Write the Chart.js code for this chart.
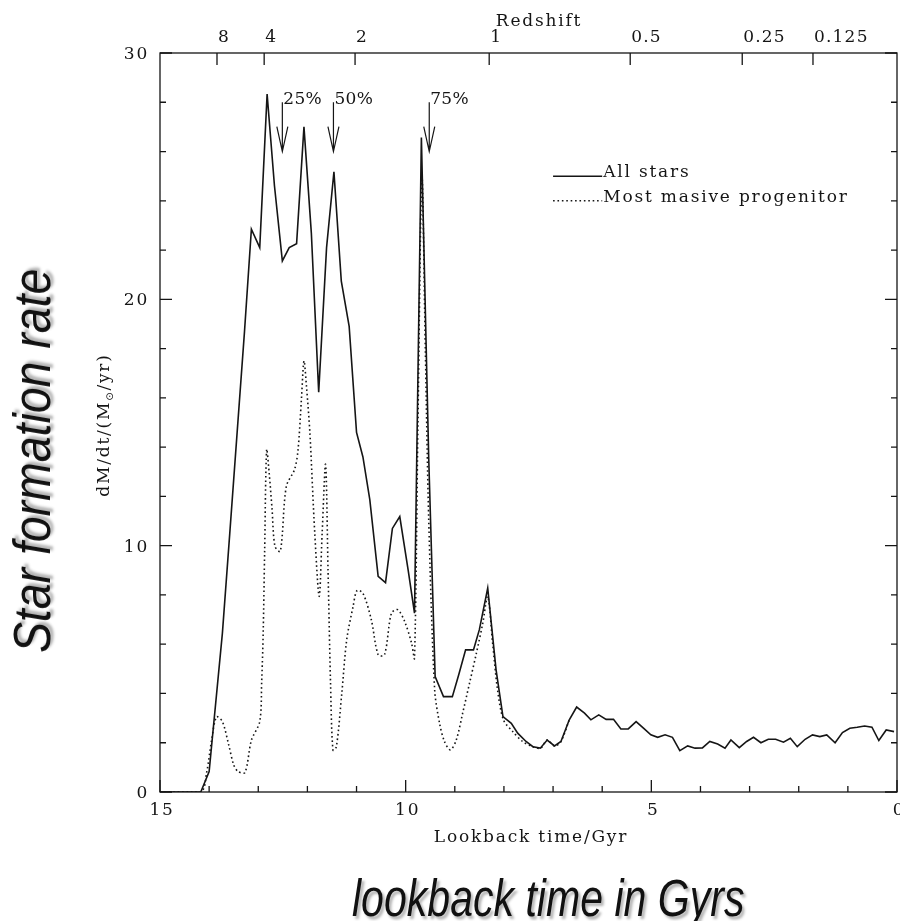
<!DOCTYPE html>
<html>
<head>
<meta charset="utf-8">
<script src="https://cdn.jsdelivr.net/npm/chart.js@4.4.1/dist/chart.umd.min.js"></script>
<style>
    html, body { margin: 0; padding: 0; background: #fff; overflow: hidden; }
    #wrap { position: relative; width: 900px; height: 921px; }
    #sfr { position: absolute; left: 0; top: 0; }
    .big {
        position: absolute; left: 0; top: 0;
        font: italic 51px "Liberation Sans", Arial, sans-serif;
        line-height: 51px; white-space: nowrap; color: #111;
        text-shadow: 3px 3px 3px rgba(0, 0, 0, 0.3);
        transform-origin: 0 0;
    }
    #ylab { transform: translate(7px, 653px) rotate(-90deg) scaleX(0.91); }
    #xlab { transform: translate(352px, 873px) scaleX(0.805); }
</style>
</head>
<body>
<div id="wrap">
    <canvas id="sfr" width="900" height="921"></canvas>
    <div class="big" id="ylab">Star formation rate</div>
    <div class="big" id="xlab">lookback time in Gyrs</div>
</div>
<script>
// ==================== Data ====================
// All stars (solid)
const lookbackAll = [15.0, 14.17, 14.0, 13.73, 13.58, 13.43, 13.28, 13.14, 12.97, 12.82, 12.67, 12.51, 12.37, 12.22,
    12.07, 11.92, 11.77, 11.61, 11.46, 11.31, 11.15, 11.0, 10.87, 10.73, 10.56, 10.41, 10.27, 10.12, 9.95, 9.82,
    9.68, 9.53, 9.40, 9.23, 9.05, 8.92, 8.78, 8.62, 8.5, 8.33, 8.16, 8.02, 7.85, 7.72, 7.55, 7.41, 7.26, 7.12,
    6.97, 6.84, 6.67, 6.52, 6.36, 6.23, 6.07, 5.92, 5.77, 5.62, 5.47, 5.31, 5.16, 5.01, 4.87, 4.72, 4.57, 4.42,
    4.26, 4.11, 3.96, 3.81, 3.65, 3.5, 3.38, 3.21, 3.06, 2.92, 2.77, 2.62, 2.47, 2.31, 2.17, 2.03, 1.87, 1.72,
    1.57, 1.43, 1.26, 1.11, 0.96, 0.81, 0.66, 0.51, 0.37, 0.22, 0.06];
const sfrAll = [0, 0, 0.83, 6.45, 10.5, 14.6, 18.7, 22.85, 22.1, 28.33, 24.6, 21.56, 22.1, 22.26,
    27.0, 22.7, 16.23, 22.1, 25.18, 20.74, 18.9, 14.6, 13.6, 11.87, 8.75, 8.5, 10.7, 11.18, 9.02, 7.26,
    26.57, 13.5, 4.69, 3.87, 3.87, 4.76, 5.77, 5.77, 6.59, 8.28, 4.96, 3.06, 2.79, 2.39, 2.05, 1.84, 1.78, 2.11,
    1.87, 2.05, 2.93, 3.45, 3.2, 2.93, 3.13, 2.95, 2.95, 2.56, 2.56, 2.86, 2.59, 2.32, 2.22, 2.32, 2.22, 1.68,
    1.87, 1.78, 1.79, 2.05, 1.95, 1.78, 2.11, 1.8, 2.05, 2.22, 2.0, 2.14, 2.14, 2.02, 2.18, 1.84, 2.14, 2.32,
    2.25, 2.32, 2.0, 2.41, 2.59, 2.63, 2.68, 2.63, 2.09, 2.52, 2.45];

// Most massive progenitor (dotted)
const lookbackProg = [15.0, 14.17, 14.05, 13.95, 13.85, 13.73, 13.6, 13.5, 13.41, 13.27, 13.14, 12.97, 12.93,
    12.9, 12.87, 12.83, 12.78, 12.72, 12.66, 12.55, 12.43, 12.26, 12.19, 12.12, 12.07, 12.02, 11.95, 11.85,
    11.76, 11.7, 11.63, 11.58, 11.53, 11.48, 11.41, 11.3, 11.2, 11.07, 10.99, 10.87, 10.7, 10.56, 10.43, 10.29,
    10.16, 10.02, 9.88, 9.82, 9.75, 9.67, 9.6, 9.53, 9.41, 9.31, 9.21, 9.09, 8.97, 8.84, 8.7, 8.56, 8.43, 8.33,
    8.23, 8.13, 8.01, 7.82, 7.62, 7.41, 7.25, 7.12, 6.97, 6.84, 6.67];
const sfrProg = [0, 0, 0.8, 2.1, 3.05, 2.86, 1.9, 1.1, 0.83, 0.79, 2.1, 2.86, 4.5,
    6.45, 9.8, 13.9, 13.0, 11.5, 9.97, 9.77, 12.4, 13.1, 13.9, 16.0, 17.5, 16.5, 14.6, 10.5,
    7.94, 10.5, 13.3, 9.0, 4.5, 1.7, 1.84, 4.0, 6.18, 7.53, 8.18, 8.07, 7.0, 5.57, 5.57, 7.26,
    7.4, 6.92, 6.04, 5.43, 15.0, 25.0, 18.0, 11.0, 4.15, 2.79, 2.05, 1.71, 2.11, 3.2, 4.42, 5.64, 6.86, 7.94,
    6.04, 4.15, 2.93, 2.45, 2.05, 1.84, 1.78, 2.11, 1.87, 2.05, 2.93];

// Axes and annotations
const xTickValues = [15, 10, 5, 0];
const yTickValues = [0, 10, 20, 30];
const redshiftLabels = ['8', '4', '2', '1', '0.5', '0.25', '0.125'];
const redshiftLookback = [13.84, 12.88, 11.03, 8.30, 5.43, 3.15, 1.71];
const markerLabels = ['25%', '50%', '75%'];
const markerLookback = [12.51, 11.47, 9.52];
const legendLabels = ['All stars', 'Most masive progenitor'];

const INK = '#151515';
const PG_FONT = '17px "DejaVu Serif", serif';
const DOTS = [1.6, 2.8];

// ==================== Frame / annotation plugin ====================
const pgplotFrame = {
    id: 'pgplotFrame',
    afterDatasetsDraw(chart) {
        const { ctx, chartArea: a } = chart;
        const xs = chart.scales.x;
        const ys = chart.scales.y;
        ctx.save();
        ctx.strokeStyle = INK;
        ctx.fillStyle = INK;
        ctx.lineWidth = 1.3;
        ctx.strokeRect(a.left, a.top, a.right - a.left, a.bottom - a.top);

        // bottom ticks, every Gyr
        ctx.beginPath();
        for (let t = 0; t <= 15; t++) {
            const px = xs.getPixelForValue(t);
            const len = t % 5 === 0 ? 12 : 6;
            ctx.moveTo(px, a.bottom);
            ctx.lineTo(px, a.bottom - len);
        }
        // left and right ticks, every 2
        for (let v = 0; v <= 30; v += 2) {
            const py = ys.getPixelForValue(v);
            const len = v % 10 === 0 ? 12 : 6;
            ctx.moveTo(a.left, py);
            ctx.lineTo(a.left + len, py);
            ctx.moveTo(a.right, py);
            ctx.lineTo(a.right - len, py);
        }
        // redshift ticks on top
        redshiftLookback.forEach(t => {
            const px = xs.getPixelForValue(t);
            ctx.moveTo(px, a.top);
            ctx.lineTo(px, a.top + 12);
        });
        ctx.stroke();

        ctx.font = PG_FONT;
        ctx.letterSpacing = '1.8px';
        ctx.textAlign = 'center';
        ctx.textBaseline = 'alphabetic';
        xTickValues.forEach(t => {
            ctx.fillText(String(t), xs.getPixelForValue(t) + 2, a.bottom + 23);
        });
        ctx.fillText('Redshift', 539, a.top - 27);
        ctx.fillText('Lookback time/Gyr', 531, a.bottom + 50);

        // redshift labels start at their tick
        ctx.textAlign = 'left';
        ctx.letterSpacing = '1.2px';
        redshiftLabels.forEach((lab, i) => {
            ctx.fillText(lab, xs.getPixelForValue(redshiftLookback[i]) + 1, a.top - 11);
        });
        ctx.letterSpacing = '1.8px';

        ctx.textAlign = 'right';
        yTickValues.forEach(v => {
            ctx.fillText(String(v), a.left - 11, ys.getPixelForValue(v) + 6);
        });

        // y axis title with subscript sun symbol
        ctx.save();
        ctx.translate(109, 425);
        ctx.rotate(-Math.PI / 2);
        const big = '17px "DejaVu Serif", serif', small = '10px "DejaVu Sans", sans-serif';
        const p1 = 'dM/dt/(M', p2 = '\u2299', p3 = '/yr)';
        ctx.font = big;
        const w1 = ctx.measureText(p1).width, w3 = ctx.measureText(p3).width;
        ctx.font = small;
        const w2 = ctx.measureText(p2).width;
        const x0 = -(w1 + w2 + w3) / 2;
        ctx.textAlign = 'left';
        ctx.font = big;
        ctx.fillText(p1, x0, 0);
        ctx.font = small;
        ctx.fillText(p2, x0 + w1, 4);
        ctx.font = big;
        ctx.fillText(p3, x0 + w1 + w2, 0);
        ctx.restore();

        // percentile arrows
        ctx.lineWidth = 1.2;
        ctx.textAlign = 'left';
        ctx.letterSpacing = '0.3px';
        markerLookback.forEach((t, i) => {
            const px = xs.getPixelForValue(t);
            const top = ys.getPixelForValue(28);
            const tip = ys.getPixelForValue(26);
            ctx.beginPath();
            ctx.moveTo(px, top);
            ctx.lineTo(px, tip);
            ctx.moveTo(px - 5.5, tip - 25);
            ctx.lineTo(px, tip);
            ctx.lineTo(px + 5.5, tip - 25);
            ctx.stroke();
            ctx.fillText(markerLabels[i], px + 1, top + 2);
        });
        ctx.letterSpacing = '1.8px';

        // legend
        const lx0 = xs.getPixelForValue(7), lx1 = xs.getPixelForValue(6);
        [25, 24].forEach((v, i) => {
            const py = ys.getPixelForValue(v);
            ctx.beginPath();
            ctx.lineWidth = 1.5;
            ctx.setLineDash(i === 0 ? [] : DOTS);
            ctx.moveTo(lx0, py);
            ctx.lineTo(lx1, py);
            ctx.stroke();
            ctx.setLineDash([]);
            ctx.fillText(legendLabels[i], lx1 + 1, py + 1);
        });
        ctx.restore();
    }
};

// ==================== Chart ====================
const toPoints = (xsArr, ysArr) => xsArr.map((x, i) => ({ x, y: ysArr[i] }));

new Chart(document.getElementById('sfr').getContext('2d'), {
    type: 'line',
    data: {
        datasets: [{
            label: legendLabels[0],
            data: toPoints(lookbackAll, sfrAll),
            borderColor: INK,
            borderWidth: 1.6,
            pointRadius: 0,
            tension: 0
        }, {
            label: legendLabels[1],
            data: toPoints(lookbackProg, sfrProg),
            borderColor: INK,
            borderWidth: 1.6,
            borderDash: DOTS,
            pointRadius: 0,
            tension: 0.3
        }]
    },
    options: {
        responsive: false,
        animation: false,
        layout: { padding: { left: 160, right: 3, top: 53, bottom: 129 } },
        plugins: { legend: { display: false }, tooltip: { enabled: false } },
        scales: {
            x: { type: 'linear', min: 0, max: 15, reverse: true, display: false },
            y: { min: 0, max: 30, display: false }
        }
    },
    plugins: [pgplotFrame]
});
</script>
</body>
</html>
